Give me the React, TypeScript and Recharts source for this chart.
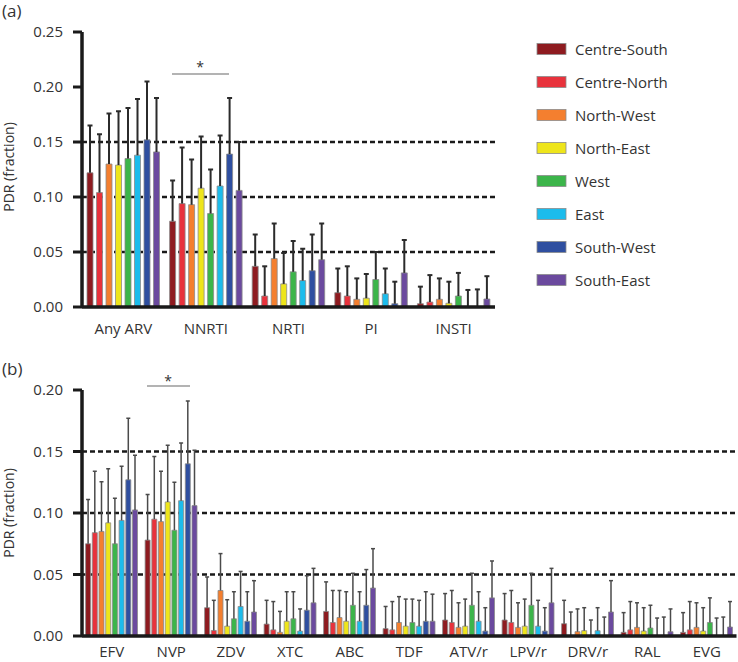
import { BarChart, Bar, XAxis, YAxis, ReferenceLine } from "recharts";

const font = "'Open Sans', sans-serif";

const regions = [
  "Centre-South",
  "Centre-North",
  "North-West",
  "North-East",
  "West",
  "East",
  "South-West",
  "South-East",
];
const colors = [
  "#8e1b20",
  "#e8323c",
  "#f47f2f",
  "#eee51b",
  "#3cb54a",
  "#1cbcec",
  "#2f4fa0",
  "#6b4a9e",
];

// panel (a): drug classes, one value per region (same order as regions)
const classCats = ["Any ARV", "NNRTI", "NRTI", "PI", "INSTI"];
const anyArv = [0.122, 0.104, 0.13, 0.129, 0.135, 0.138, 0.152, 0.141];
const anyArvHi = [0.165, 0.157, 0.176, 0.178, 0.181, 0.189, 0.205, 0.19];
const nnrti = [0.078, 0.094, 0.093, 0.108, 0.085, 0.11, 0.139, 0.106];
const nnrtiHi = [0.115, 0.145, 0.134, 0.155, 0.125, 0.156, 0.19, 0.15];
const nrti = [0.037, 0.01, 0.044, 0.021, 0.032, 0.024, 0.033, 0.043];
const nrtiHi = [0.066, 0.037, 0.076, 0.049, 0.06, 0.053, 0.066, 0.076];
const pi = [0.013, 0.01, 0.007, 0.008, 0.025, 0.012, 0.003, 0.031];
const piHi = [0.035, 0.037, 0.026, 0.03, 0.05, 0.035, 0.023, 0.061];
const insti = [0.003, 0.0045, 0.007, 0.0034, 0.01, 0, 0, 0.0073];
const instiHi = [0.0185, 0.029, 0.026, 0.023, 0.031, 0.0155, 0.016, 0.028];

// panel (b): single drugs
const drugCats = ["EFV", "NVP", "ZDV", "XTC", "ABC", "TDF", "ATV/r", "LPV/r", "DRV/r", "RAL", "EVG"];
const efv = [0.075, 0.084, 0.085, 0.092, 0.075, 0.094, 0.127, 0.1025];
const efvHi = [0.111, 0.134, 0.1255, 0.136, 0.112, 0.138, 0.177, 0.147];
const nvp = [0.078, 0.095, 0.093, 0.109, 0.086, 0.11, 0.14, 0.106];
const nvpHi = [0.115, 0.146, 0.134, 0.155, 0.125, 0.157, 0.191, 0.151];
const zdv = [0.023, 0.0045, 0.037, 0.008, 0.014, 0.024, 0.012, 0.0195];
const zdvHi = [0.048, 0.029, 0.067, 0.0295, 0.036, 0.0525, 0.036, 0.045];
const xtc = [0.0097, 0.005, 0.003, 0.012, 0.014, 0.004, 0.021, 0.027];
const xtcHi = [0.029, 0.028, 0.02, 0.036, 0.036, 0.022, 0.049, 0.055];
const abc = [0.02, 0.011, 0.015, 0.012, 0.025, 0.012, 0.025, 0.039];
const abcHi = [0.044, 0.037, 0.037, 0.036, 0.051, 0.036, 0.054, 0.071];
const tdf = [0.006, 0.005, 0.011, 0.008, 0.011, 0.008, 0.012, 0.012];
const tdfHi = [0.024, 0.028, 0.032, 0.03, 0.03, 0.029, 0.036, 0.034];
const atv = [0.013, 0.011, 0.007, 0.008, 0.025, 0.012, 0.004, 0.031];
const atvHi = [0.0345, 0.037, 0.027, 0.03, 0.051, 0.036, 0.023, 0.061];
const lpv = [0.013, 0.011, 0.007, 0.008, 0.025, 0.008, 0.004, 0.027];
const lpvHi = [0.0345, 0.037, 0.027, 0.03, 0.051, 0.029, 0.023, 0.055];
const drv = [0.01, 0, 0.0035, 0.0043, 0, 0.0043, 0, 0.0195];
const drvHi = [0.029, 0.0195, 0.022, 0.023, 0.013, 0.023, 0.0154, 0.045];
const ral = [0.003, 0.005, 0.007, 0.004, 0.0065, 0, 0, 0.0035];
const ralHi = [0.019, 0.028, 0.027, 0.023, 0.025, 0.0146, 0.0154, 0.022];
const evg = [0.003, 0.005, 0.007, 0.004, 0.011, 0, 0, 0.0073];
const evgHi = [0.019, 0.028, 0.027, 0.023, 0.031, 0.0146, 0.0154, 0.028];

function buildRows(cats: string[], vals: number[][], his: number[][]) {
  return cats.map((cat, i) => {
    const row: any = { cat };
    regions.forEach((_, r) => {
      row["r" + r] = vals[i][r];
      row["e" + r] = his[i][r] - vals[i][r];
    });
    return row;
  });
}

const dataA = buildRows(
  classCats,
  [anyArv, nnrti, nrti, pi, insti],
  [anyArvHi, nnrtiHi, nrtiHi, piHi, instiHi]
);
const dataB = buildRows(
  drugCats,
  [efv, nvp, zdv, xtc, abc, tdf, atv, lpv, drv, ral, evg],
  [efvHi, nvpHi, zdvHi, xtcHi, abcHi, tdfHi, atvHi, lpvHi, drvHi, ralHi, evgHi]
);

// upper whisker only, drawn on top of the value bar
const whisker = (color: string, sw: number, cap: number) => (p: any) => {
  const cx = p.x + p.width / 2;
  return (
    <g>
      <line x1={cx} x2={cx} y1={p.y} y2={p.y + p.height} stroke={color} strokeWidth={sw} />
      <line x1={cx - cap} x2={cx + cap} y1={p.y} y2={p.y} stroke={color} strokeWidth={sw} />
    </g>
  );
};

const tickStyle = { fill: "#333", fontSize: 15, fontFamily: font };

function Panel(props: {
  data: any[];
  width: number;
  height: number;
  top: number;
  xHeight: number;
  right: number;
  max: number;
  ticks: number[];
  catGap: number;
  gap: number;
  xMargin: number;
  errColor: string;
  errWidth: number;
  cap: number;
}) {
  return (
    <BarChart
      width={props.width}
      height={props.height}
      data={props.data}
      margin={{ top: props.top, right: props.right, bottom: 0, left: 0 }}
      barCategoryGap={props.catGap}
      barGap={props.gap}
      style={{ overflow: "visible" }}
    >
      {[0.05, 0.1, 0.15].map((v) => (
        <ReferenceLine
          key={v}
          y={v}
          stroke="#1a1a1a"
          strokeWidth={2.5}
          strokeDasharray="5 3"
          zIndex={-10}
        />
      ))}
      <XAxis
        dataKey="cat"
        axisLine={{ stroke: "#1a1a1a", strokeWidth: 3.5 }}
        tickLine={false}
        tickSize={0}
        tickMargin={props.xMargin}
        height={props.xHeight}
        tick={tickStyle}
        interval={0}
      />
      <YAxis
        domain={[0, props.max]}
        ticks={props.ticks}
        tickFormatter={(v: number) => v.toFixed(2)}
        width={82}
        axisLine={{ stroke: "#1a1a1a", strokeWidth: 3.5 }}
        tickLine={{ stroke: "#1a1a1a", strokeWidth: 3 }}
        tickSize={9}
        tickMargin={10}
        tick={tickStyle}
        allowDataOverflow
      />
      {regions.flatMap((name, r) => [
        <Bar
          key={"v" + r}
          name={name}
          dataKey={"r" + r}
          stackId={"s" + r}
          fill={colors[r]}
          stroke="#8c8c8c"
          strokeWidth={0.8}
          isAnimationActive={false}
        />,
        <Bar
          key={"e" + r}
          dataKey={"e" + r}
          stackId={"s" + r}
          fill="none"
          shape={whisker(props.errColor, props.errWidth, props.cap)}
          isAnimationActive={false}
        />,
      ])}
    </BarChart>
  );
}

export default function App() {
  return (
    <div
      style={{
        position: "absolute",
        left: 0,
        top: 0,
        width: 738,
        height: 662,
        background: "#fff",
        fontFamily: font,
        overflow: "hidden",
      }}
    >
      <div style={{ position: "absolute", left: 0, top: 0 }}>
        <Panel
          data={dataA}
          width={500}
          height={345}
          top={32}
          xHeight={38}
          right={5}
          max={0.25}
          ticks={[0, 0.05, 0.1, 0.15, 0.2, 0.25]}
          catGap={5}
          gap={3.5}
          xMargin={16}
          errColor="#2b2b2b"
          errWidth={2}
          cap={2.5}
        />
      </div>
      <div style={{ position: "absolute", left: 0, top: 360 }}>
        <Panel
          data={dataB}
          width={738}
          height={302}
          top={30}
          xHeight={26}
          right={1.5}
          max={0.2}
          ticks={[0, 0.05, 0.1, 0.15, 0.2]}
          catGap={3.6}
          gap={1.7}
          xMargin={10}
          errColor="#4a4a4a"
          errWidth={1.5}
          cap={2}
        />
      </div>
      <svg
        width={738}
        height={662}
        style={{ position: "absolute", left: 0, top: 0, pointerEvents: "none" }}
        fontFamily={font}
      >
        <text x={2} y={17} fontSize={17} fill="#333">(a)</text>
        <text x={2} y={375} fontSize={17} fill="#333">(b)</text>
        <text x={0} y={0} fontSize={14} fill="#333" textAnchor="middle" transform="translate(14,167) rotate(-90)">
          PDR (fraction)
        </text>
        <text x={0} y={0} fontSize={14} fill="#333" textAnchor="middle" transform="translate(14,513) rotate(-90)">
          PDR (fraction)
        </text>
        <line x1={172} x2={229} y1={74} y2={74} stroke="#9a9a9a" strokeWidth={1.5} />
        <text x={200} y={72} fontSize={14} fill="#333" textAnchor="middle">*</text>
        <line x1={147} x2={190} y1={386} y2={386} stroke="#9a9a9a" strokeWidth={1.5} />
        <text x={168} y={386} fontSize={14} fill="#333" textAnchor="middle">*</text>
        {regions.map((name, r) => {
          const cy = 49 + r * 33;
          return (
            <g key={name}>
              <rect x={537} y={cy - 5.5} width={29} height={11} fill={colors[r]} stroke="#8c8c8c" strokeWidth={0.8} />
              <text x={575} y={cy + 5.5} fontSize={15} fill="#333">{name}</text>
            </g>
          );
        })}
      </svg>
    </div>
  );
}
